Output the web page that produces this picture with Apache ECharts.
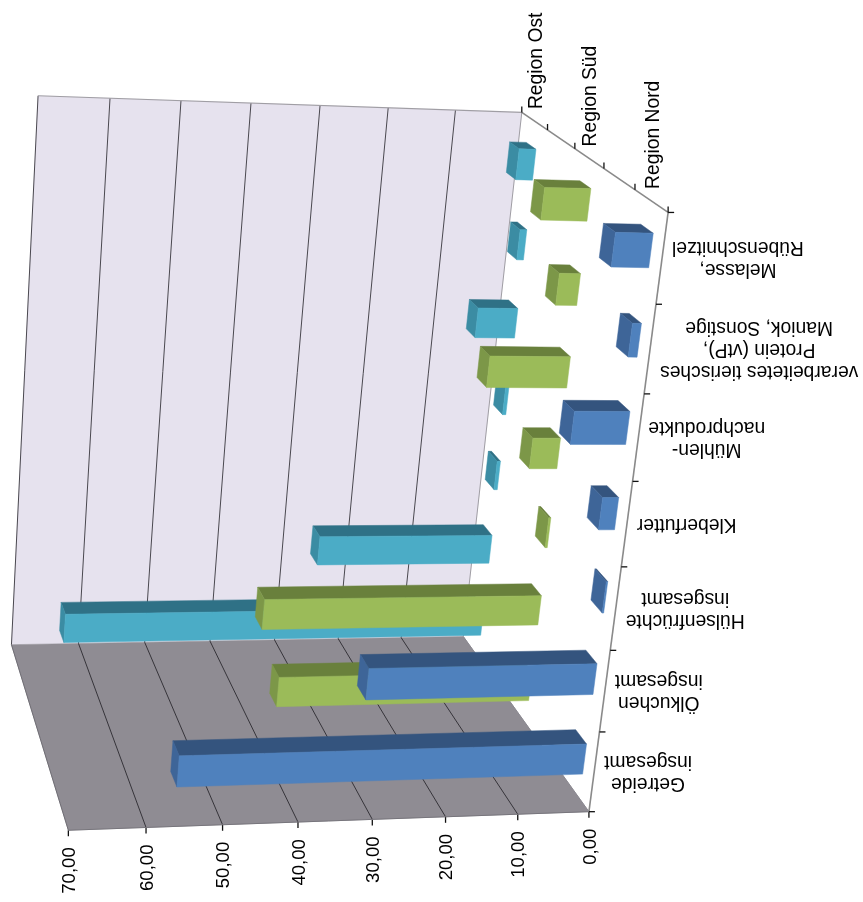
<!DOCTYPE html>
<html><head><meta charset="utf-8">
<style>html,body{margin:0;padding:0;background:#fff}#c{width:863px;height:902px}</style>
<script src="https://cdn.jsdelivr.net/npm/echarts@6/dist/echarts.min.js"></script>
</head><body><div id="c"></div>
<script>
var categories=['Getreide\ninsgesamt','Ölkuchen\ninsgesamt','Hülsenfrüchte\ninsgesamt','Kleberfutter','Mühlen-\nnachprodukte','verarbeitetes tierisches\nProtein (vtP),\nManiok, Sonstige','Melasse,\nRübenschnitzel'];
var regionNord=[55.5,31.3,0.2,2.2,7.5,1.2,5];
var regionSued=[37,40,0.3,4,11.5,3,6.5];
var regionOst=[63.5,26.5,0.5,0.5,6,1,2.5];
var valueTicks=[0,10,20,30,40,50,60,70];
var valueLabels=['0,00','10,00','20,00','30,00','40,00','50,00','60,00','70,00'];
var regionLabels=['Region Nord','Region Süd','Region Ost'];
var regionCentres=[0.5,2.5,4.5];
var colours=[{f:'#4F81BD',t:'#34547E',s:'#3E6598'},{f:'#9BBB59',t:'#69803C',s:'#7C9748'},{f:'#4BACC6',t:'#2F7186',s:'#3B8CA3'}];
// camera calibration: [value, category, depth, screen x, screen y]
var camera=[[0,0,0,587,809],[10,0,0,517,816],[20,0,0,445,819],[30,0,0,372,821],[40,0,0,297,823],[50,0,0,223,825],[60,0,0,145,827],[70,0,0,69,828],
[0,1,0,602,730],[0,2,0,612,648],[0,3,0,621,567],[0,4,0,633,482],[0,5,0,645,395],[0,6,0,658,306],[0,7,0,667,213],
[0,7,1,634,190],[0,7,2,604,168],[0,7,3,573,148],[0,7,4,547,127],[0,7,5,522,114],
[70,7,5,37,95],[60,7,5,110,98],[50,7,5,182,101],[40,7,5,252,104],
[70,0,5,12,645],[60,0,5,78,643],[50,0,5,145,643],[40,0,5,210,641],[30,0,5,275,640],[0,0,5,463,637]];

function solve(A,b){var n=b.length;for(var i=0;i<n;i++){var p=i;for(var r=i+1;r<n;r++)if(Math.abs(A[r][i])>Math.abs(A[p][i]))p=r;
 var t=A[i];A[i]=A[p];A[p]=t;t=b[i];b[i]=b[p];b[p]=t;
 for(r=i+1;r<n;r++){var m=A[r][i]/A[i][i];for(var k=i;k<n;k++)A[r][k]-=m*A[i][k];b[r]-=m*b[i];}}
 var x=[];for(i=n-1;i>=0;i--){var s=b[i];for(k=i+1;k<n;k++)s-=A[i][k]*x[k];x[i]=s/A[i][i];}return x;}
function fit(){var N=[],B=[],i,j;for(i=0;i<11;i++){N.push(new Array(11).fill(0));B.push(0);}
 function add(row,y){for(var a=0;a<11;a++){for(var b=0;b<11;b++)N[a][b]+=row[a]*row[b];B[a]+=row[a]*y;}}
 camera.forEach(function(q){var u=q[0]/70,w=q[1]/7,t=q[2]/5,x=q[3],y=q[4];
  add([u,w,t,1,0,0,0,0,-x*u,-x*w,-x*t],x);add([0,0,0,0,u,w,t,1,-y*u,-y*w,-y*t],y);});
 return solve(N,B);}
var P=fit();
function proj(u,w,t){var h=P[8]*u+P[9]*w+P[10]*t+1;return [(P[0]*u+P[1]*w+P[2]*t+P[3])/h,(P[4]*u+P[5]*w+P[6]*t+P[7])/h];}
var SIDE=700;
function pt(api,v,c,d){var q=api.coord([v,c]);return proj(q[0]/SIDE,(SIDE-q[1])/SIDE,d/5);}
function poly(pts,fill,z){return {type:'polygon',shape:{points:pts},z2:z||0,style:{fill:fill,stroke:fill,lineWidth:0.5}};}
function line(a,b,col,w){return {type:'line',shape:{x1:a[0],y1:a[1],x2:b[0],y2:b[1]},style:{stroke:col,lineWidth:w,fill:null}};}

function barSeries(values,idx){var dc=regionCentres[idx],col=colours[idx];
 return {type:'custom',z:3+(2-idx),data:values.map(function(v,i){return [v,i];}),
 renderItem:function(p,api){var v=api.value(0),i=api.value(1),c0=i+0.31,c1=i+0.69,d0=dc-0.17,d1=dc+0.21;
  function g(a,b,c){return pt(api,a,b,c);}
  return {type:'group',children:[
   poly([g(0,c1,d0),g(v,c1,d0),g(v,c1,d1),g(0,c1,d1)],col.t),
   poly([g(v,c0,d0),g(v,c1,d0),g(v,c1,d1),g(v,c0,d1)],col.s),
   poly([g(0,c0,d0),g(v,c0,d0),g(v,c1,d0),g(0,c1,d0)],col.f)]};}};}

var walls={type:'custom',z:1,data:[[0,0]],renderItem:function(p,api){
 var ch=[],E='#a09ea4',G='#4a484f';
 function g(a,b,c){return pt(api,a,b,c);}
 ch.push(poly([g(0,0,5),g(70,0,5),g(70,7,5),g(0,7,5)],'#E6E2EE'));
 ch.push(poly([g(0,0,0),g(70,0,0),g(70,0,5),g(0,0,5)],'#8F8C93'));
 valueTicks.forEach(function(v){
  var col=(v===0)?E:G;
  ch.push(line(g(v,0,5),g(v,7,5),col,1));
  if(v>0&&v<70)ch.push(line(g(v,0,0),g(v,0,5),'#36343a',1));
  var a=g(v,0,0);ch.push(line(a,[a[0],a[1]+6],'#111',1.3));
 });
 ch.push(line(g(70,0,0),g(70,0,5),'#6f6d74',1));
 ch.push(line(g(0,0,0),g(70,0,0),'#77757c',1));
 ch.push(line(g(0,7,5),g(70,7,5),E,1.2));
 ch.push(line(g(0,0,0),g(0,7,0),'#8a8a8a',1.6));
 ch.push(line(g(0,7,0),g(0,7,5),'#8a8a8a',1.6));
 ch.push(line(g(0,0,0),g(0,0,5),'#8a8890',1));
 for(var c=0;c<=7;c++){var a=g(0,c,0);ch.push(line(a,[a[0]+6,a[1]],'#111',1.3));}
 for(var d=0;d<=5;d++){var b=g(0,7,d);ch.push(line(b,[b[0],b[1]-6],'#111',1.3));}
 return {type:'group',children:ch};}};

var FONT='"Liberation Sans", Arial, sans-serif',FS=19.3,FSV=18.6;
var meas=document.createElement('canvas').getContext('2d');meas.font=FS+'px '+FONT;
function textEl(x,y,txt,rot,align,vAlign,size){return {type:'text',x:x,y:y,rotation:rot,style:{text:txt,fill:'#000',font:size+'px '+FONT,align:align,verticalAlign:vAlign,lineHeight:22}};}
var texts={type:'custom',z:8,data:[[0,0]],renderItem:function(p,api){
 var ch=[];
 categories.forEach(function(t,i){var a=pt(api,0,i+0.5,0),w=0;
  t.split('\n').forEach(function(s){w=Math.max(w,meas.measureText(s).width);});
  ch.push(textEl(a[0]+10+w/2,a[1],t,Math.PI,'center','middle',FS));});
 valueLabels.forEach(function(t,i){var a=pt(api,valueTicks[i],0,0);
  ch.push(textEl(a[0]+1.5,a[1]+17,t,Math.PI/2,'right','middle',FSV));});
 regionLabels.forEach(function(t,i){var a=pt(api,0,7,regionCentres[i]);
  ch.push(textEl(a[0]+2,a[1]-12,t,Math.PI/2,'left','middle',FS));});
 return {type:'group',children:ch};}};

var chart=echarts.init(document.getElementById('c'),null,{renderer:'canvas'});
chart.setOption({animation:false,backgroundColor:'#fff',tooltip:{show:false},
 grid:{left:0,top:0,width:SIDE,height:SIDE},
 xAxis:{type:'value',min:0,max:70,interval:10,show:false},
 yAxis:{type:'value',min:0,max:7,interval:1,show:false},
 series:[walls,barSeries(regionOst,2),barSeries(regionSued,1),barSeries(regionNord,0),texts]});
</script></body></html>
